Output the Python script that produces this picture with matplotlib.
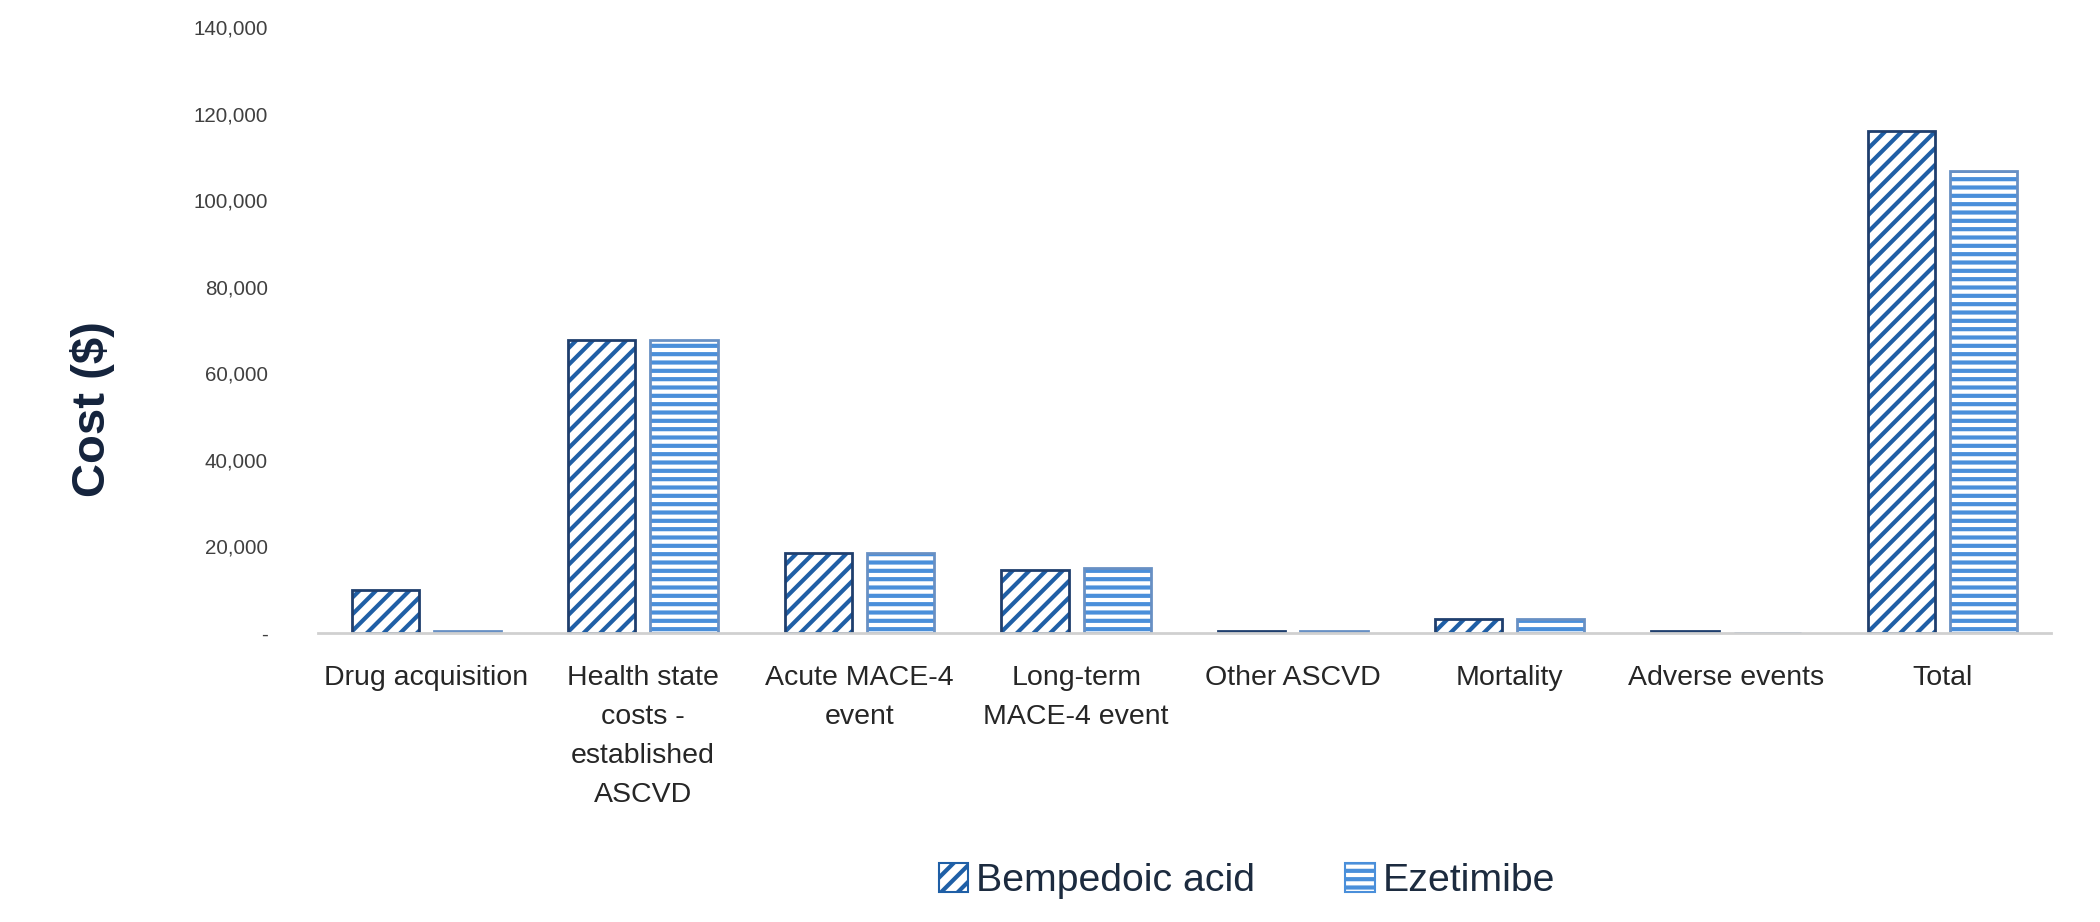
import matplotlib
matplotlib.use("Agg")
import matplotlib.pyplot as plt
import numpy as np
from matplotlib.patches import Patch
from matplotlib.ticker import FuncFormatter

categories = ["Drug acquisition", "Health state\ncosts -\nestablished\nASCVD",
              "Acute MACE-4\nevent", "Long-term\nMACE-4 event", "Other ASCVD",
              "Mortality", "Adverse events", "Total"]
bempedoic = [9850, 67600, 18400, 14600, 400, 3200, 400, 116000]
ezetimibe = [500, 67600, 18400, 15100, 400, 3200, 0, 106700]
series_names = ["Bempedoic acid", "Ezetimibe"]
yticks = [0, 20000, 40000, 60000, 80000, 100000, 120000, 140000]

plt.rcParams['font.family'] = ['Liberation Sans', 'DejaVu Sans']
plt.rcParams['hatch.linewidth'] = 3.0

fig = plt.figure(figsize=(21, 9.22), dpi=100)
ax = fig.add_axes([0.1514, 0.3134, 0.8253, 0.6573])

x = np.arange(len(categories))
w = 0.31
off = 0.19

bemp_stripe = "#1F5FA6"
bemp_edge = "#1F3F6E"
eze_stripe = "#4A8FDA"
eze_edge = "#6890C4"

ax.bar(x - off, bempedoic, w, color="white", edgecolor=bemp_stripe, hatch="//", linewidth=0)
ax.bar(x - off, bempedoic, w, fill=False, edgecolor=bemp_edge, linewidth=2.0)
ax.bar(x + off, ezetimibe, w, color="white", edgecolor=eze_stripe, hatch="--", linewidth=0)
ax.bar(x + off, ezetimibe, w, fill=False, edgecolor=eze_edge, linewidth=2.0)

ax.set_xlim(-0.5, len(categories) - 0.5)
ax.set_ylim(0, 140000)
ax.set_yticks(yticks)
ax.yaxis.set_major_formatter(FuncFormatter(lambda v, p: "-" if v == 0 else f"{int(v):,}"))
ax.set_xticks(x)
ax.set_xticklabels(categories, fontsize=20.5, color="#262626", linespacing=1.65, va="top")
ax.tick_params(axis="x", length=0, pad=23)
ax.tick_params(axis="y", length=0, pad=36, labelsize=14.8, labelcolor="#404040")

for s in ["top", "right", "left"]:
    ax.spines[s].set_visible(False)
ax.spines["bottom"].set_color("#D0D0D0")
ax.spines["bottom"].set_linewidth(2)

fig.text(0.044, 0.556, "Cost ($)", rotation=90, fontsize=34, fontweight="bold",
         color="#14233C", ha="center", va="center")

handles = [Patch(facecolor="white", edgecolor=bemp_stripe, hatch="//", linewidth=1.5),
           Patch(facecolor="white", edgecolor=eze_stripe, hatch="--", linewidth=1.5)]
leg = fig.legend(handles, series_names, loc="center", bbox_to_anchor=(0.5937, 0.044),
                 ncol=2, frameon=False, fontsize=28.3, handlelength=0.75, handleheight=0.75,
                 handletextpad=0.2, columnspacing=2.3)
for t in leg.get_texts():
    t.set_color("#1C2B3F")

fig.savefig("out.png", dpi=100, facecolor="white")
